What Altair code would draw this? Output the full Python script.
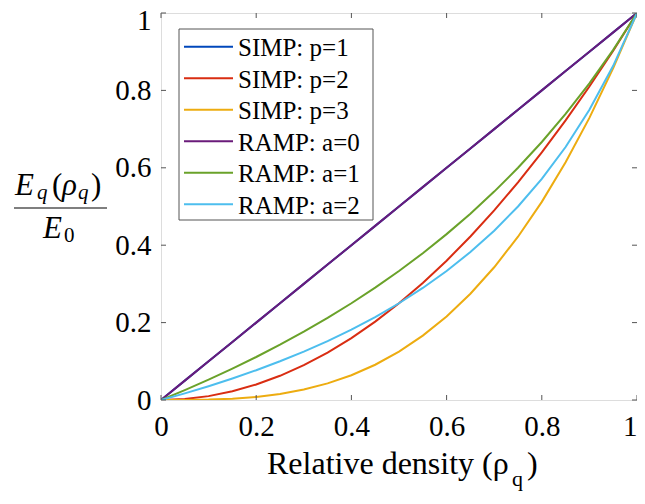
import altair as alt
import pandas as pd

# ---- data ----
rho = [0, 0.05, 0.1, 0.15, 0.2, 0.25, 0.3, 0.35, 0.4, 0.45, 0.5,
       0.55, 0.6, 0.65, 0.7, 0.75, 0.8, 0.85, 0.9, 0.95, 1]
simp_p1 = [0, 0.05, 0.1, 0.15, 0.2, 0.25, 0.3, 0.35, 0.4, 0.45, 0.5,
           0.55, 0.6, 0.65, 0.7, 0.75, 0.8, 0.85, 0.9, 0.95, 1]
simp_p2 = [0, 0.0025, 0.01, 0.0225, 0.04, 0.0625, 0.09, 0.1225, 0.16, 0.2025, 0.25,
           0.3025, 0.36, 0.4225, 0.49, 0.5625, 0.64, 0.7225, 0.81, 0.9025, 1]
simp_p3 = [0, 0.0001, 0.001, 0.0034, 0.008, 0.0156, 0.027, 0.0429, 0.064, 0.0911, 0.125,
           0.1664, 0.216, 0.2746, 0.343, 0.4219, 0.512, 0.6141, 0.729, 0.8574, 1]
ramp_a0 = [0, 0.05, 0.1, 0.15, 0.2, 0.25, 0.3, 0.35, 0.4, 0.45, 0.5,
           0.55, 0.6, 0.65, 0.7, 0.75, 0.8, 0.85, 0.9, 0.95, 1]
ramp_a1 = [0, 0.0256, 0.0526, 0.0811, 0.1111, 0.1429, 0.1765, 0.2121, 0.25, 0.2903, 0.3333,
           0.3793, 0.4286, 0.4815, 0.5385, 0.6, 0.6667, 0.7391, 0.8182, 0.9048, 1]
ramp_a2 = [0, 0.0172, 0.0357, 0.0556, 0.0769, 0.1, 0.125, 0.1522, 0.1818, 0.2143, 0.25,
           0.2895, 0.3333, 0.3824, 0.4375, 0.5, 0.5714, 0.6538, 0.75, 0.8636, 1]

series_names = ["SIMP: p=1", "SIMP: p=2", "SIMP: p=3",
                "RAMP: a=0", "RAMP: a=1", "RAMP: a=2"]
series_values = [simp_p1, simp_p2, simp_p3, ramp_a0, ramp_a1, ramp_a2]
series_colors = ["#0047BB", "#D92D12", "#EDAC10", "#6A1B7A", "#6AA22A", "#4DBEEE"]
tick_values = [0, 0.2, 0.4, 0.6, 0.8, 1]

# ---- layout ----
W, H = 476, 387
FONT = "Liberation Serif"
BOX = "#555555"

rows = []
for name, vals in zip(series_names, series_values):
    for r, v in zip(rho, vals):
        rows.append({"rho": r, "E": v, "series": name})
df = pd.DataFrame(rows)

color_scale = alt.Scale(domain=series_names, range=series_colors)
xs = alt.Scale(domain=[0, 1], nice=False, zero=False)
ys = alt.Scale(domain=[0, 1], nice=False, zero=False)

x_axis = alt.Axis(values=tick_values, format="~g", ticks=False, domain=False, grid=False,
                  labelFont=FONT, labelFontSize=29, labelColor="black", labelPadding=12,
                  labelFlush=False, labelOverlap=False, labelBound=False, title=None,
                  labelAlign=alt.condition("datum.value == 1", alt.value("right"), alt.value("center")))
y_axis = alt.Axis(values=tick_values, format="~g", ticks=False, domain=False, grid=False,
                  labelFont=FONT, labelFontSize=29, labelColor="black", labelPadding=10,
                  labelFlush=False, labelOverlap=False, labelBound=False, title=None,
                  labelOffset=alt.condition("datum.value == 1", alt.value(7), alt.value(0)))

layers = []
for i, name in enumerate(series_names):
    layers.append(
        alt.Chart(df).transform_filter(alt.datum.series == name)
        .mark_line(strokeWidth=2, clip=True).encode(
            x=alt.X("rho:Q", scale=xs, axis=x_axis),
            y=alt.Y("E:Q", scale=ys, axis=y_axis),
            color=alt.Color("series:N", scale=color_scale, legend=None),
        )
    )

ticks_df = pd.DataFrame({"t": tick_values})
tick_style = dict(color=BOX, strokeWidth=1)
layers.append(alt.Chart(ticks_df).mark_rule(**tick_style).encode(
    x=alt.X("t:Q", scale=xs, axis=x_axis), y=alt.value(H), y2=alt.value(H - 5)))
layers.append(alt.Chart(ticks_df).mark_rule(**tick_style).encode(
    x=alt.X("t:Q", scale=xs, axis=x_axis), y=alt.value(0), y2=alt.value(5)))
layers.append(alt.Chart(ticks_df).mark_rule(**tick_style).encode(
    y=alt.Y("t:Q", scale=ys, axis=y_axis), x=alt.value(0), x2=alt.value(5)))
layers.append(alt.Chart(ticks_df).mark_rule(**tick_style).encode(
    y=alt.Y("t:Q", scale=ys, axis=y_axis), x=alt.value(W), x2=alt.value(W - 5)))

one = pd.DataFrame({"k": [0]})

# legend
layers.append(alt.Chart(one).mark_rect(fill="white", stroke=BOX, strokeWidth=1).encode(
    x=alt.value(18), x2=alt.value(212), y=alt.value(16), y2=alt.value(207)))
leg_df = pd.DataFrame({"series": series_names, "i": list(range(len(series_names)))})
layers.append(alt.Chart(leg_df).transform_calculate(ly="33.7 + datum.i * 31.5")
              .mark_rule(strokeWidth=2).encode(
    x=alt.value(23), x2=alt.value(72), y=alt.Y("ly:Q", scale=None),
    color=alt.Color("series:N", scale=color_scale, legend=None)))
layers.append(alt.Chart(leg_df).transform_calculate(ly="33.7 + datum.i * 31.5 + 9.5")
              .mark_text(font=FONT, fontSize=25, align="left", baseline="alphabetic",
                         color="black").encode(
    x=alt.value(77), y=alt.Y("ly:Q", scale=None), text="series:N"))


def txt(s, x, y, size, italic=False, align="left"):
    return alt.Chart(one).mark_text(
        text=s, font=FONT, fontSize=size, align=align, baseline="alphabetic",
        fontStyle="italic" if italic else "normal", color="black"
    ).encode(x=alt.value(x), y=alt.value(y))


# x title: Relative density (rho_q)
layers.append(txt("Relative density (\u03c1", 106, 461, 32))
layers.append(txt("q", 351, 473, 22))
layers.append(txt(")", 366, 461, 32))

# y title: fraction E_q(rho_q) / E_0
layers.append(txt("E", -146, 182, 31, italic=True))
layers.append(txt("q", -124, 186, 21, italic=True))
layers.append(txt("(", -109, 182, 31))
layers.append(txt("\u03c1", -99, 182, 31, italic=True))
layers.append(txt("q", -83, 186, 21, italic=True))
layers.append(txt(")", -70, 182, 31))
layers.append(alt.Chart(one).mark_rule(color="black", strokeWidth=1.2).encode(
    x=alt.value(-147), x2=alt.value(-54), y=alt.value(195)))
layers.append(txt("E", -118, 225, 31, italic=True))
layers.append(txt("0", -97, 229, 21))

chart = alt.layer(*layers).properties(
    width=W, height=H,
    autosize=alt.AutoSizeParams(type="none"),
    padding={"left": 153, "top": 5, "right": 0, "bottom": 92},
).configure_view(stroke=BOX, strokeWidth=1).configure(background="white")

chart.save("out.html", embed_options={"renderer": "svg", "actions": False})
